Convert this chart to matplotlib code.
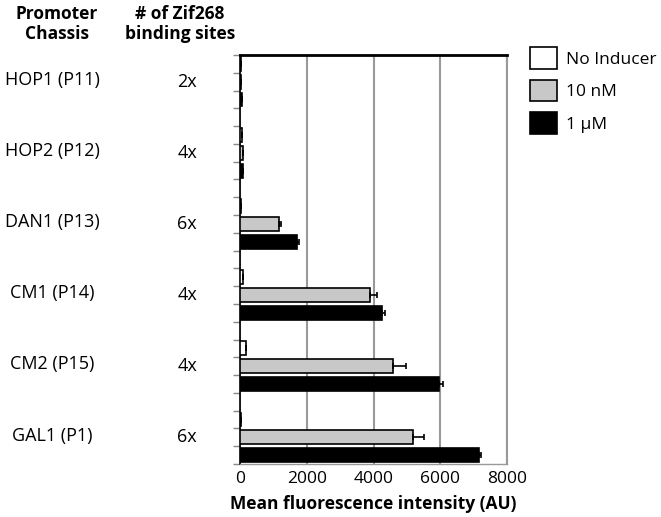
import matplotlib
matplotlib.use("Agg")
import matplotlib.pyplot as plt
from matplotlib.patches import Patch
import matplotlib.transforms as mtransforms

plt.rcParams['font.family'] = ['Open Sans', 'DejaVu Sans']

promoters = ["HOP1 (P11)", "HOP2 (P12)", "DAN1 (P13)", "CM1 (P14)", "CM2 (P15)", "GAL1 (P1)"]
sites = ["2x", "4x", "6x", "4x", "4x", "6x"]
series_names = ["No Inducer", "10 nM", "1 \u00b5M"]
no_inducer = [40, 50, 20, 80, 170, 30]
nm10 = [40, 80, 1170, 3890, 4590, 5170]
um1 = [50, 100, 1700, 4260, 5960, 7170]
err_no = [0, 0, 0, 0, 0, 0]
err_10 = [0, 0, 70, 200, 380, 340]
err_1 = [0, 0, 60, 80, 130, 50]
xticks = [0, 2000, 4000, 6000, 8000]

colors = ["white", "#c8c8c8", "black"]

fig = plt.figure(figsize=(6.61, 5.17), dpi=100)
ax = fig.add_axes([240/661, 1-464/517, (507-240)/661, (464-55)/517])

n_groups = len(promoters)
n_slots = n_groups * 4 - 1
series = [no_inducer, nm10, um1]
errs = [err_no, err_10, err_1]
for s in range(3):
    ys = [g * 4 + s + 0.5 for g in range(n_groups)]
    ax.barh(ys, series[s], height=0.78, color=colors[s], edgecolor="black", linewidth=1.2,
            xerr=[[0]*n_groups, errs[s]], error_kw=dict(ecolor="black", elinewidth=1.2, capsize=2.5, capthick=1.2),
            zorder=3)

ax.set_ylim(n_slots, 0)
ax.set_xlim(0, 8000)
ax.set_yticks(range(0, n_slots + 1))
ax.set_yticklabels([])
ax.tick_params(axis='y', direction='out', length=5, color='#888888', width=1)
ax.set_xticks(xticks)
ax.set_xticklabels([str(t) for t in xticks], fontsize=12.5)
ax.tick_params(axis='x', length=0, pad=5)
ax.xaxis.grid(True, color='#999999', linewidth=1.5, zorder=0)
ax.set_axisbelow(True)
ax.spines['top'].set_color('black')
ax.spines['top'].set_linewidth(2)
ax.spines['left'].set_color('black')
ax.spines['left'].set_linewidth(1.2)
ax.spines['right'].set_color('#999999')
ax.spines['right'].set_linewidth(1.5)
ax.spines['bottom'].set_color('#999999')
ax.spines['bottom'].set_linewidth(1)
ax.set_xlabel("Mean fluorescence intensity (AU)", fontsize=12.5, fontweight='bold', labelpad=6)

trans = mtransforms.blended_transform_factory(fig.transFigure, ax.transData)
for g in range(n_groups):
    yc = g * 4 + 1.5
    ax.text(52/661, yc - 0.1, promoters[g], transform=trans, ha='center', va='center', fontsize=13)
    ax.text(187/661, yc, sites[g], transform=trans, ha='center', va='center', fontsize=13)

fig.text(57/661, 1-24/517, "Promoter\nChassis", ha='center', va='center', fontsize=12.5,
         fontweight='bold', linespacing=1.15)
fig.text(180/661, 1-24/517, "# of Zif268\nbinding sites", ha='center', va='center', fontsize=12.5,
         fontweight='bold', linespacing=1.15)

handles = [Patch(facecolor=c, edgecolor='black', linewidth=1.2) for c in colors]
fig.legend(handles, series_names, loc='upper left', bbox_to_anchor=(530/661, 1-47/517),
           frameon=False, fontsize=12.5, handlelength=1.55, handleheight=1.55, labelspacing=0.62,
           handletextpad=0.55, borderaxespad=0, borderpad=0)

fig.savefig("out.png", dpi=100)
